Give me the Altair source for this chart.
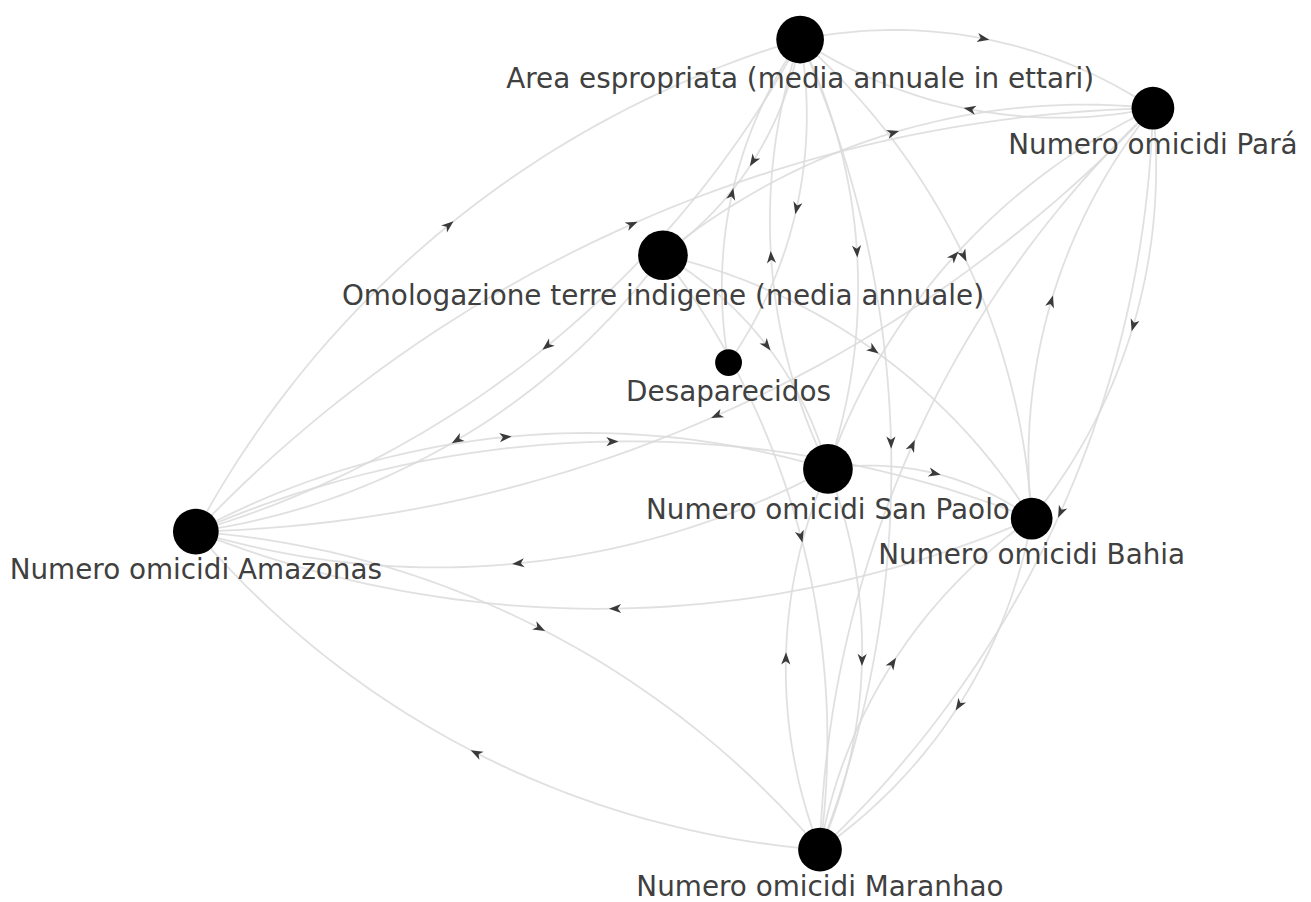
import math
import altair as alt
import pandas as pd

# ---- nodes (layout positions in page pixels) ----
node_id = ["A", "P", "O", "D", "S", "B", "Z", "M"]
node_label = [
    "Area espropriata (media annuale in ettari)",
    "Numero omicidi Pará",
    "Omologazione terre indigene (media annuale)",
    "Desaparecidos",
    "Numero omicidi San Paolo",
    "Numero omicidi Bahia",
    "Numero omicidi Amazonas",
    "Numero omicidi Maranhao",
]
node_x = [805, 1160, 667, 733, 833, 1038, 197, 825]
node_y = [37, 106, 254, 362, 469, 519, 532, 852]
node_r = [24, 21.5, 25, 13.5, 25, 21, 23, 22]

# ---- directed edges ----
edge_source = ["A", "P", "O", "A", "D", "A", "A", "S", "S", "A", "Z", "Z", "A",
               "O", "O", "B", "P", "P", "O", "Z", "Z", "A", "M", "S", "P", "O",
               "S", "B", "Z", "M", "S", "M", "B", "M"]
edge_target = ["P", "A", "P", "O", "A", "D", "S", "A", "P", "B", "P", "A", "Z",
               "S", "B", "P", "B", "Z", "Z", "S", "B", "M", "P", "B", "M", "M",
               "Z", "Z", "M", "S", "M", "B", "M", "Z"]

CURVE = 0.1   # arc bulge relative to chord length
N = 48

pos = {k: (x, y) for k, x, y in zip(node_id, node_x, node_y)}
line_rows, arrow_rows = [], []
for e, (s, t) in enumerate(zip(edge_source, edge_target)):
    sx, sy = pos[s]
    tx, ty = pos[t]
    dx, dy = tx - sx, ty - sy
    d = math.hypot(dx, dy)
    nx, ny = dy / d, -dx / d
    mx, my = (sx + tx) / 2, (sy + ty) / 2
    sag = CURVE * d
    R = (sag * sag + d * d / 4) / (2 * sag)
    cx, cy = mx - (R - sag) * nx, my - (R - sag) * ny
    a0 = math.atan2(sy - cy, sx - cx)
    a1 = math.atan2(ty - cy, tx - cx)
    delta = (a1 - a0 + math.pi) % (2 * math.pi) - math.pi
    for i in range(N + 1):
        a = a0 + delta * i / N
        line_rows.append({"edge": e, "i": i,
                          "x": cx + R * math.cos(a), "y": cy + R * math.sin(a)})
    arrow_rows.append({"edge": e, "x": mx + sag * nx, "y": my + sag * ny,
                       "angle": math.degrees(math.atan2(dx, -dy)) % 360})

lines = pd.DataFrame(line_rows)
arrows = pd.DataFrame(arrow_rows)
nodes = pd.DataFrame({
    "id": node_id, "label": node_label, "x": node_x, "y": node_y, "r": node_r,
})
nodes["size"] = 4 * nodes["r"] ** 2
nodes["ly"] = nodes["y"] + nodes["r"] + 25

xs = alt.Scale(domain=[8, 1311], nice=False, zero=False)
ys = alt.Scale(domain=[8, 902], nice=False, zero=False, reverse=True)
X = lambda: alt.X("x:Q", scale=xs, axis=None)

edge_layer = alt.Chart(lines).mark_line(
    color="#dadada", strokeWidth=1.8, opacity=0.85
).encode(
    x=X(), y=alt.Y("y:Q", scale=ys, axis=None),
    detail="edge:N", order="i:Q",
)

arrow_layer = alt.Chart(arrows).mark_point(
    shape="M0,-1L0.75,1L0,0.45L-0.75,1Z", filled=True, size=150,
    color="#3a3a3a", opacity=1,
).encode(
    x=X(), y=alt.Y("y:Q", scale=ys, axis=None),
    angle=alt.Angle("angle:Q", scale=None),
)

node_layer = alt.Chart(nodes).mark_circle(color="black", opacity=1).encode(
    x=X(), y=alt.Y("y:Q", scale=ys, axis=None),
    size=alt.Size("size:Q", scale=None, legend=None),
)

label_layer = alt.Chart(nodes).mark_text(
    align="center", baseline="alphabetic", font="DejaVu Sans",
    fontSize=28, color="#404040",
).encode(
    x=X(), y=alt.Y("ly:Q", scale=ys, axis=None), text="label:N",
)

chart = alt.layer(edge_layer, arrow_layer, node_layer, label_layer).properties(
    width=1303, height=894, padding=0, autosize=alt.AutoSizeParams(type="none"),
).configure_view(stroke=None)

chart.save("out.html", embed_options={"renderer": "svg", "actions": False})
